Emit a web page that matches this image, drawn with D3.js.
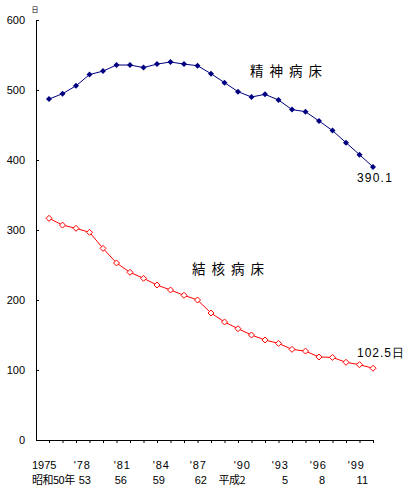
<!DOCTYPE html>
<html><head><meta charset="utf-8">
<script src="https://cdn.jsdelivr.net/npm/d3@7"></script>
<style>body{margin:0;background:#fff}svg{display:block}</style>
</head><body>
<svg id="c" width="408" height="490"></svg>
<script>
const years = d3.range(1975, 2000);
const psychiatric = [487, 494.7, 506, 522, 527, 535.7, 535.7, 532, 537, 540, 537, 534.7, 523.3, 510.5, 497.6, 490, 493.8, 485.7, 472, 469, 455.7, 442, 424.8, 407.6, 390.1];
const tuberculosis = [316.7, 307, 302.4, 296.7, 273.8, 252.9, 239.5, 231, 221.4, 214.3, 206.7, 200, 181.4, 168.6, 159, 150, 142.9, 138, 129.5, 127, 118.6, 118, 111, 107.6, 102.5];
const yTicks = [0, 100, 200, 300, 400, 500, 600];
const labelYears = [1975, 1978, 1981, 1984, 1987, 1990, 1993, 1996, 1999];
const labelWestern = ["1975", "'78", "'81", "'84", "'87", "'90", "'93", "'96", "'99"];
const labelJapanese = ["昭和50年", "53", "56", "59", "62", "平成2", "5", "8", "11"];

// layout offsets (pixels, relative to the scaled year position) for the hand-placed tick labels
const row1Shift = [-17, 1.5, 1, -0.5, -4, -0.5, -3, -5.5, -8];
const row2Shift = [-17, 1.5, -3, -5.5, -4, -6.5, -4, -7.5, -5];

const svg = d3.select("#c");
const mLeft = 36, mTop = 20, mBottom = 440;
const x = d3.scaleLinear().domain([1975, 1999]).range([49, 373]);
const y = d3.scaleLinear().domain([0, 600]).range([mBottom, mTop]);
const numFont = "'Liberation Sans', Arial, sans-serif";
const jpFont = "'Noto Sans CJK JP', sans-serif";

// y axis
const ya = svg.append("g").attr("transform", `translate(${mLeft},0)`)
  .call(d3.axisLeft(y).tickValues(yTicks).tickSizeInner(-3).tickSizeOuter(0).tickPadding(11));
ya.select(".domain").attr("stroke", "#000");
ya.selectAll("line").attr("stroke", "#000");
ya.selectAll("text").attr("font-family", numFont).attr("font-size", 11).attr("fill", "#000");

// x axis
const xa = svg.append("g").attr("transform", `translate(0,${mBottom})`)
  .call(d3.axisBottom(x).tickValues(years).tickSize(3).tickFormat(""));
xa.select(".domain").remove();
xa.selectAll("line").attr("stroke", "#000");
svg.append("line").attr("x1", mLeft).attr("x2", x(1999)).attr("y1", mBottom + 0.5).attr("y2", mBottom + 0.5).attr("stroke", "#000");

// unit
svg.append("text").attr("x", mLeft - 1).attr("y", 12).attr("text-anchor", "middle")
  .attr("font-family", jpFont).attr("font-size", 7).text("日");

// x labels
svg.append("g").selectAll("text").data(labelYears).join("text")
  .attr("x", (d, i) => x(d) + row1Shift[i])
  .attr("y", 469).attr("text-anchor", (d, i) => i === 0 ? "start" : "end")
  .attr("font-family", numFont).attr("font-size", 11)
  .attr("letter-spacing", (d, i) => i === 0 ? 0 : 1)
  .text((d, i) => labelWestern[i]);
svg.append("g").selectAll("text").data(labelYears).join("text")
  .attr("x", (d, i) => x(d) + row2Shift[i])
  .attr("y", 484).attr("text-anchor", (d, i) => i === 0 ? "start" : "end")
  .attr("font-family", (d, i) => (i === 0 || i === 5) ? jpFont : numFont)
  .attr("font-size", 11).attr("letter-spacing", (d, i) => (i === 0 || i === 5) ? -0.5 : 0)
  .text((d, i) => labelJapanese[i]);

const line = d3.line().x((d, i) => x(years[i])).y(d => y(d));

// psychiatric
svg.append("path").datum(psychiatric).attr("d", line).attr("fill", "none").attr("stroke", "#000080").attr("stroke-width", 1);
svg.append("g").selectAll("path").data(psychiatric).join("path")
  .attr("transform", (d, i) => `translate(${x(years[i])},${y(d)})`)
  .attr("d", "M0,-3L3,0L0,3L-3,0Z").attr("fill", "#000080");

// tuberculosis
svg.append("path").datum(tuberculosis).attr("d", line).attr("fill", "none").attr("stroke", "#ff0000").attr("stroke-width", 1);
svg.append("g").selectAll("path").data(tuberculosis).join("path")
  .attr("transform", (d, i) => `translate(${x(years[i])},${y(d)})`)
  .attr("d", "M0,-3L3,0L0,3L-3,0Z").attr("fill", "#fff").attr("stroke", "#ff0000").attr("stroke-width", 1);

// series labels
svg.append("text").attr("x", 250).attr("y", 76).attr("font-family", jpFont).attr("font-size", 13.5)
  .attr("letter-spacing", 6).text("精神病床");
svg.append("text").attr("x", 192).attr("y", 274).attr("font-family", jpFont).attr("font-size", 13.5)
  .attr("letter-spacing", 6).text("結核病床");

// end labels
svg.append("text").attr("x", 357).attr("y", 182).attr("font-family", numFont).attr("font-size", 12)
  .attr("letter-spacing", 1.2)
  .text(psychiatric[psychiatric.length - 1].toFixed(1));
svg.append("text").attr("x", 357).attr("y", 357).attr("font-family", numFont).attr("font-size", 12)
  .attr("letter-spacing", 1)
  .text(tuberculosis[tuberculosis.length - 1].toFixed(1) + "日");
</script>
</body></html>
